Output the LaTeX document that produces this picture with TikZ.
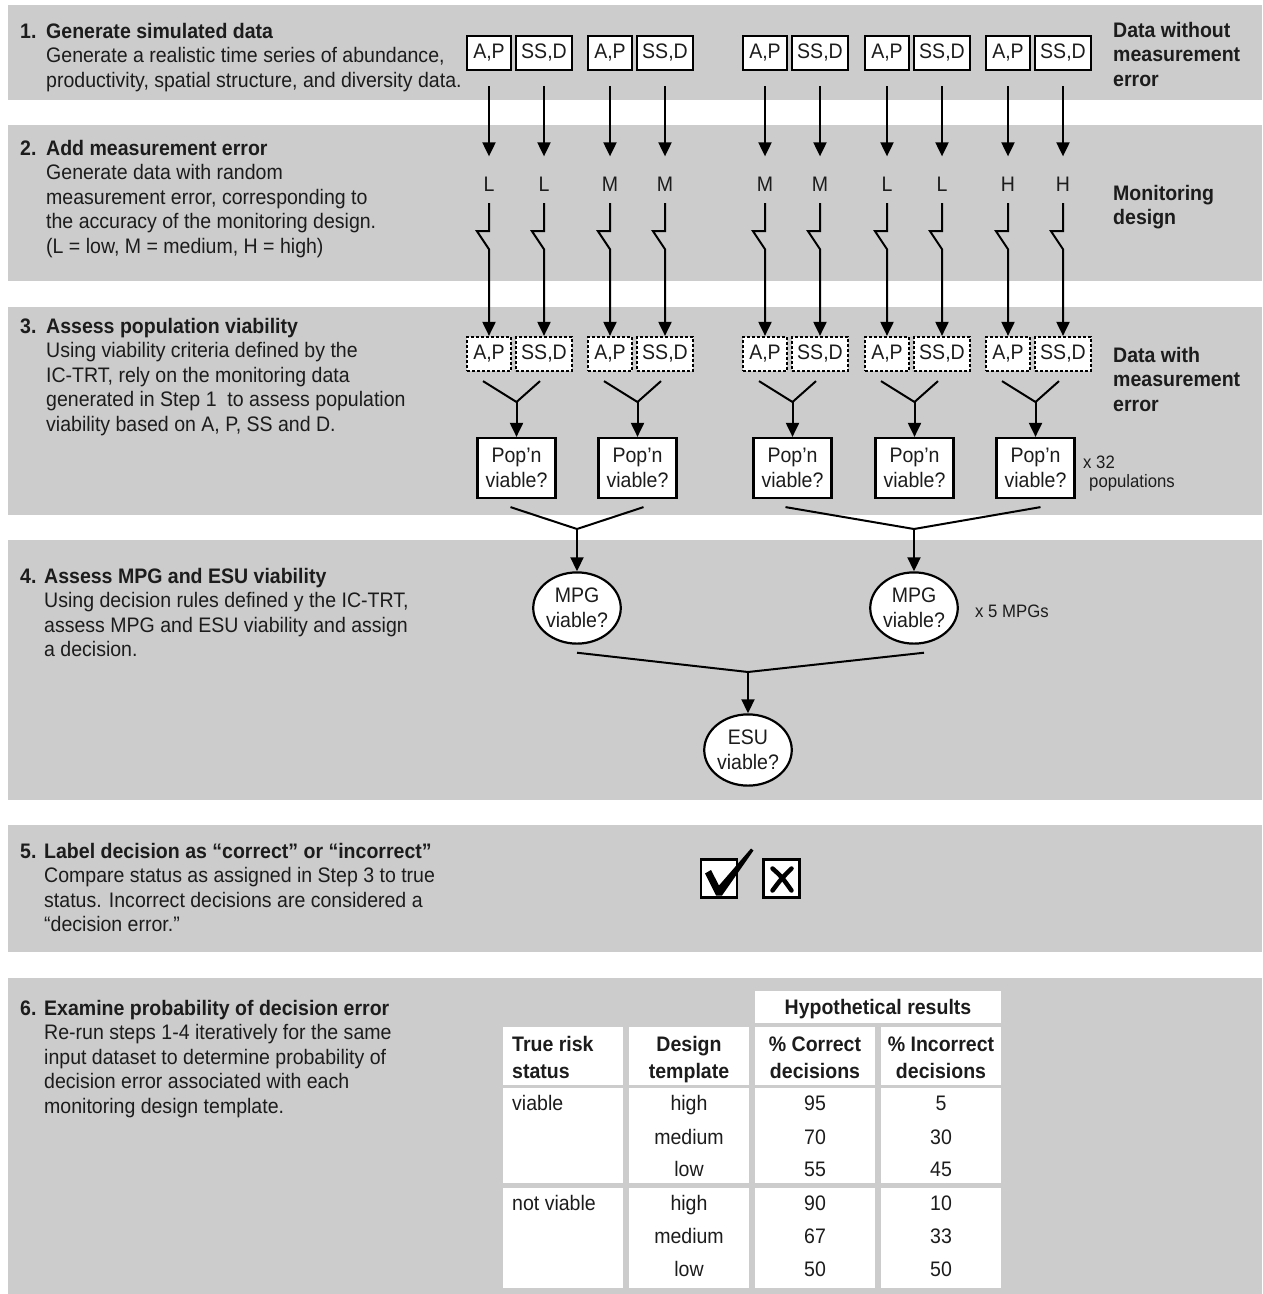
\documentclass[tikz,border=0pt]{standalone}
\usepackage{fontspec}
\setmainfont{Liberation Sans}[FakeStretch=0.93]
\usetikzlibrary{arrows.meta,positioning,shapes.geometric}
\definecolor{bandgray}{RGB}{204,204,204}
\definecolor{inkblack}{RGB}{28,28,28}
\newcommand{\diagfont}{\fontsize{21}{24.5}\selectfont}
\tikzset{
 band/.style={fill=bandgray,draw=none},
 databox/.style={draw=black,line width=2.2pt,fill=white,minimum height=34pt,inner sep=0pt},
 errbox/.style={databox,dash pattern=on 3pt off 2pt},
 popbox/.style={draw=black,line width=2.2pt,fill=white,minimum width=78pt,minimum height=60pt,
   align=center,inner sep=0pt},
 viabnode/.style={ellipse,draw=black,line width=2.2pt,fill=white,align=center,
   inner xsep=0pt,inner ysep=5.5pt},
 arr/.style={draw=black,line width=2pt,-{Triangle[length=14pt,width=13pt]}},
 mergeline/.style={draw=black,line width=2pt},
 lvl/.style={anchor=base,inner sep=0pt},
 stepnum/.style={anchor=base west,inner sep=0pt,font=\diagfont\bfseries},
 steptext/.style={anchor=north west,align=left,inner sep=0pt},
 sidelabel/.style={anchor=north west,align=left,inner sep=0pt,font=\diagfont\bfseries},
 note/.style={anchor=base west,inner sep=0pt,font=\fontsize{18}{21}\selectfont},
 cell/.style={fill=white,minimum width=120pt,inner sep=0pt},
 tabtext/.style={anchor=base,inner sep=0pt},
 tabhead/.style={anchor=base,inner sep=0pt,font=\diagfont\bfseries},
}
\begin{document}
\begin{tikzpicture}[x=1pt,y=-1pt,font=\diagfont,text=inkblack]
\useasboundingbox (0,0) rectangle (1262,1294);
% bands
\fill[band] (8,5) rectangle (1262,100);
\fill[band] (8,125) rectangle (1262,281);
\fill[band] (8,307) rectangle (1262,515);
\fill[band] (8,540) rectangle (1262,800);
\fill[band] (8,825) rectangle (1262,952);
\fill[band] (8,978) rectangle (1262,1294);

% step descriptions
\node[stepnum] (n1) at (20,38) {1.};
\node[steptext] (s1) at (46,22.7) {\textbf{Generate simulated data}\\
  Generate a realistic time series of abundance,\\
  productivity, spatial structure, and diversity data.};
\node[stepnum] (n2) at (20,155) {2.};
\node[steptext] (s2) at (46,139.7) {\textbf{Add measurement error}\\
  Generate data with random\\
  measurement error, corresponding to\\
  the accuracy of the monitoring design.\\
  (L = low, M = medium, H = high)};
\node[stepnum] (n3) at (20,333) {3.};
\node[steptext] (s3) at (46,317.7) {\textbf{Assess population viability}\\
  Using viability criteria defined by the\\
  IC-TRT, rely on the monitoring data\\
  generated in Step 1\ \ to assess population\\
  viability based on A, P, SS and D.};
\node[stepnum] (n4) at (20,583) {4.};
\node[steptext] (s4) at (44,567.7) {\textbf{Assess MPG and ESU viability}\\
  Using decision rules defined y the IC-TRT,\\
  assess MPG and ESU viability and assign\\
  a decision.};
\node[stepnum] (n5) at (20,858) {5.};
\node[steptext] (s5) at (44,842.7) {\textbf{Label decision as “correct” or “incorrect”}\\
  Compare status as assigned in Step 3 to true\\
  status. Incorrect decisions are considered a\\
  “decision error.”};
\node[stepnum] (n6) at (20,1015) {6.};
\node[steptext] (s6) at (44,999.7) {\textbf{Examine probability of decision error}\\
  Re-run steps 1-4 iteratively for the same\\
  input dataset to determine probability of\\
  decision error associated with each\\
  monitoring design template.};

% right-hand labels
\node[sidelabel] (lab1) at (1113,21.7) {Data without\\measurement\\error};
\node[sidelabel] (lab2) at (1113,184.7) {Monitoring\\design};
\node[sidelabel] (lab3) at (1113,346.7) {Data with\\measurement\\error};

% data columns
\foreach \i/\x/\lv in {1/489/L,2/610/M,3/765/M,4/887/L,5/1008/H}{
  \node[databox,minimum width=44pt] (ap\i) at (\x,53) {A,P};
  \node[databox,minimum width=56pt] (sd\i) at (\x+55,53) {SS,D};
  \node[lvl] (la\i) at (\x,191) {\lv};
  \node[lvl] (lb\i) at (\x+55,191) {\lv};
  \node[errbox,minimum width=44pt] (eap\i) at (\x,354) {A,P};
  \node[errbox,minimum width=56pt] (esd\i) at (\x+55,354) {SS,D};
  \node[popbox] (pop\i) at (\x+27.5,468) {Pop'n\\viable?};
  \coordinate (y\i) at (\x+27.5,402);
  \draw[arr] ([yshift=-15pt]ap\i.south) -- ([yshift=20pt]la\i.north);
  \draw[arr] ([yshift=-15pt]sd\i.south) -- ([yshift=20pt]lb\i.north);
  \draw[arr] ([yshift=-12pt]la\i.south) -- ++(0,28) -- ++(-12,0) -- ++(12,18) -- (eap\i.north);
  \draw[arr] ([yshift=-12pt]lb\i.south) -- ++(0,28) -- ++(-12,0) -- ++(12,18) -- (esd\i.north);
  \draw[mergeline] ([shift={(-6pt,-9pt)}]eap\i.south) -- (y\i) -- ([shift={(-4pt,-9pt)}]esd\i.south);
  \draw[arr] (y\i) -- (pop\i.north);
}
\node[note] (x32) at (1083,468) {x 32};
\node[note] (popn) at (1089,487) {populations};

% MPG and ESU
\node[viabnode] (mpg1) at (577,608) {MPG\\viable?};
\node[viabnode] (mpg2) at (914,608) {MPG\\viable?};
\node[viabnode] (esu) at (748,750) {ESU\\viable?};
\node[note] (x5) at (975,617) {x 5 MPGs};
\coordinate (m1) at (577,529);
\coordinate (m2) at (914,529);
\coordinate (m3) at (748,672);
\draw[mergeline] ([shift={(-6pt,-8pt)}]pop1.south) -- (m1) -- ([shift={(6pt,-8pt)}]pop2.south);
\draw[arr] (m1) -- (mpg1.north);
\draw[mergeline] ([shift={(-7pt,-8pt)}]pop3.south) -- (m2) -- ([shift={(5pt,-8pt)}]pop5.south);
\draw[arr] (m2) -- (mpg2.north);
\draw[mergeline] ([yshift=-8pt]mpg1.south) -- (m3) -- ([shift={(10pt,-8pt)}]mpg2.south);
\draw[arr] (m3) -- (esu.north);

% correct / incorrect
\node[draw=black,line width=2.4pt,fill=white,minimum width=36pt,minimum height=38pt] (chk) at (719,878.5) {};
\node[draw=black,line width=2.4pt,fill=white,minimum width=36pt,minimum height=38pt] (crs) at (781.5,878.5) {};
\begin{scope}[shift={(chk.center)}]
  \fill[black] (-14,-5) -- (-8,-8.5) -- (0,7) -- (32,-30) -- (34.5,-28) -- (3,17) -- (-3,17) -- cycle;
\end{scope}
\begin{scope}[shift={(crs.center)}]
  \draw[black,line width=4.5pt,line cap=round] (-9,-10) .. controls (0,-2) .. (10,12);
  \draw[black,line width=4.5pt,line cap=round] (10,-10) .. controls (0,0) .. (-9,12);
\end{scope}

% results table
\node[cell,minimum width=246pt,minimum height=32pt] (hyp) at (878,1007) {};
\foreach \c/\x in {1/563,2/689,3/815,4/941}{
  \node[cell,minimum height=58pt] (h\c) at (\x,1056) {};
  \node[cell,minimum height=95pt] (g\c) at (\x,1135.5) {};
  \node[cell,minimum height=100pt] (k\c) at (\x,1238) {};
}
\node[tabhead] (hyptxt) at (878,1014) {Hypothetical results};
\node[tabhead,anchor=base west] (tr1) at (512,1051) {True risk};
\node[tabhead,anchor=base west] (tr2) at (512,1078) {status};
\node[tabhead] (dt1) at (689,1051) {Design};
\node[tabhead] (dt2) at (689,1078) {template};
\node[tabhead] (pc1) at (815,1051) {\% Correct};
\node[tabhead] (pc2) at (815,1078) {decisions};
\node[tabhead] (pi1) at (941,1051) {\% Incorrect};
\node[tabhead] (pi2) at (941,1078) {decisions};
\node[tabtext,anchor=base west] (st1) at (512,1110) {viable};
\node[tabtext,anchor=base west] (st2) at (512,1210) {not viable};
\foreach \y/\d/\cr/\w in {1110/high/95/5,1144/medium/70/30,1176/low/55/45,
  1210/high/90/10,1243/medium/67/33,1276/low/50/50}{
  \node[tabtext] (dd\y) at (689,\y) {\d};
  \node[tabtext] (dc\y) at (815,\y) {\cr};
  \node[tabtext] (dw\y) at (941,\y) {\w};
}
\end{tikzpicture}
\end{document}
